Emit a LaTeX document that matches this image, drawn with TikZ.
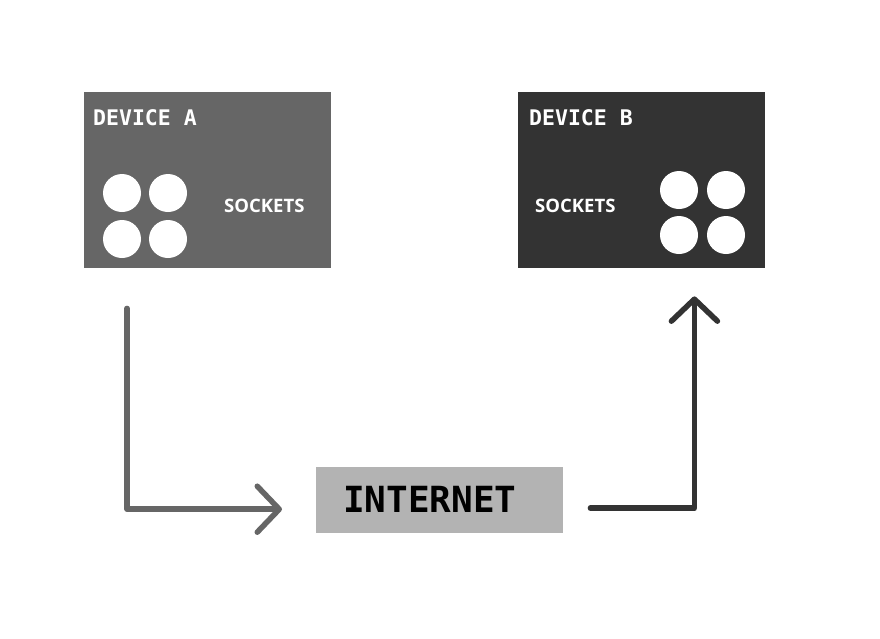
\documentclass[tikz,border=0pt]{standalone}
\usepackage{fontspec}
\usetikzlibrary{arrows.meta}
\newfontfamily\monofnt{DejaVu Sans Mono}
\newfontfamily\sockfnt{Open Sans}
\definecolor{devA}{HTML}{666666}
\definecolor{devB}{HTML}{333333}
\definecolor{netc}{HTML}{B3B3B3}
\begin{document}
\begin{tikzpicture}[x=1pt,y=-1pt,
  devbox/.style={draw=none,minimum width=247pt,minimum height=176pt,inner sep=0pt,anchor=north west},
  sock/.style={circle,fill=white,minimum size=38pt,inner sep=0pt},
  devtitle/.style={text=white,font=\monofnt\bfseries\fontsize{21.5}{24}\selectfont,anchor=base west,inner sep=0pt},
  socklabel/.style={text=white,font=\sockfnt\bfseries\fontsize{18.5}{21}\selectfont,anchor=base west,inner sep=0pt},
  conn/.style={line width=5.5pt,line cap=round,line join=round,-{Straight Barb[length=22pt,width=46pt,round]}}
]
\path[fill=white,use as bounding box] (0,0) rectangle (880,638);
% Device A
\node[devbox,fill=devA] (A) at (84,92) {};
\node[devtitle] (At) at (93,125) {DEVICE A};
\node[sock] (a1) at (122,193) {};
\node[sock] (a2) at (168,193) {};
\node[sock] (a3) at (122,239) {};
\node[sock] (a4) at (168,239) {};
\node[socklabel] (As) at (224,212.5) {SOCKETS};
% Device B
\node[devbox,fill=devB] (B) at (518,92) {};
\node[devtitle] (Bt) at (529,125) {DEVICE B};
\node[sock] (b1) at (679,190) {};
\node[sock] (b2) at (726,190) {};
\node[sock] (b3) at (679,235) {};
\node[sock] (b4) at (726,235) {};
\node[socklabel] (Bs) at (535,212.5) {SOCKETS};
% Internet
\node[draw=none,fill=netc,minimum width=247pt,minimum height=66pt,inner sep=0pt,anchor=north west] (I) at (316,467) {};
\node[font=\monofnt\bfseries\fontsize{36}{40}\selectfont,text=black,anchor=base west,inner sep=0pt] (It) at (343,512) {INTERNET};
% Connectors
\draw[conn,devA] ([xshift=43pt,yshift=-40pt]A.south west) |- ([xshift=-34pt,yshift=-9pt]I.west);
\draw[conn,devB] ([xshift=27pt,yshift=-8pt]I.east) -| ([xshift=-71pt,yshift=-28pt]B.south east);
\end{tikzpicture}
\end{document}
